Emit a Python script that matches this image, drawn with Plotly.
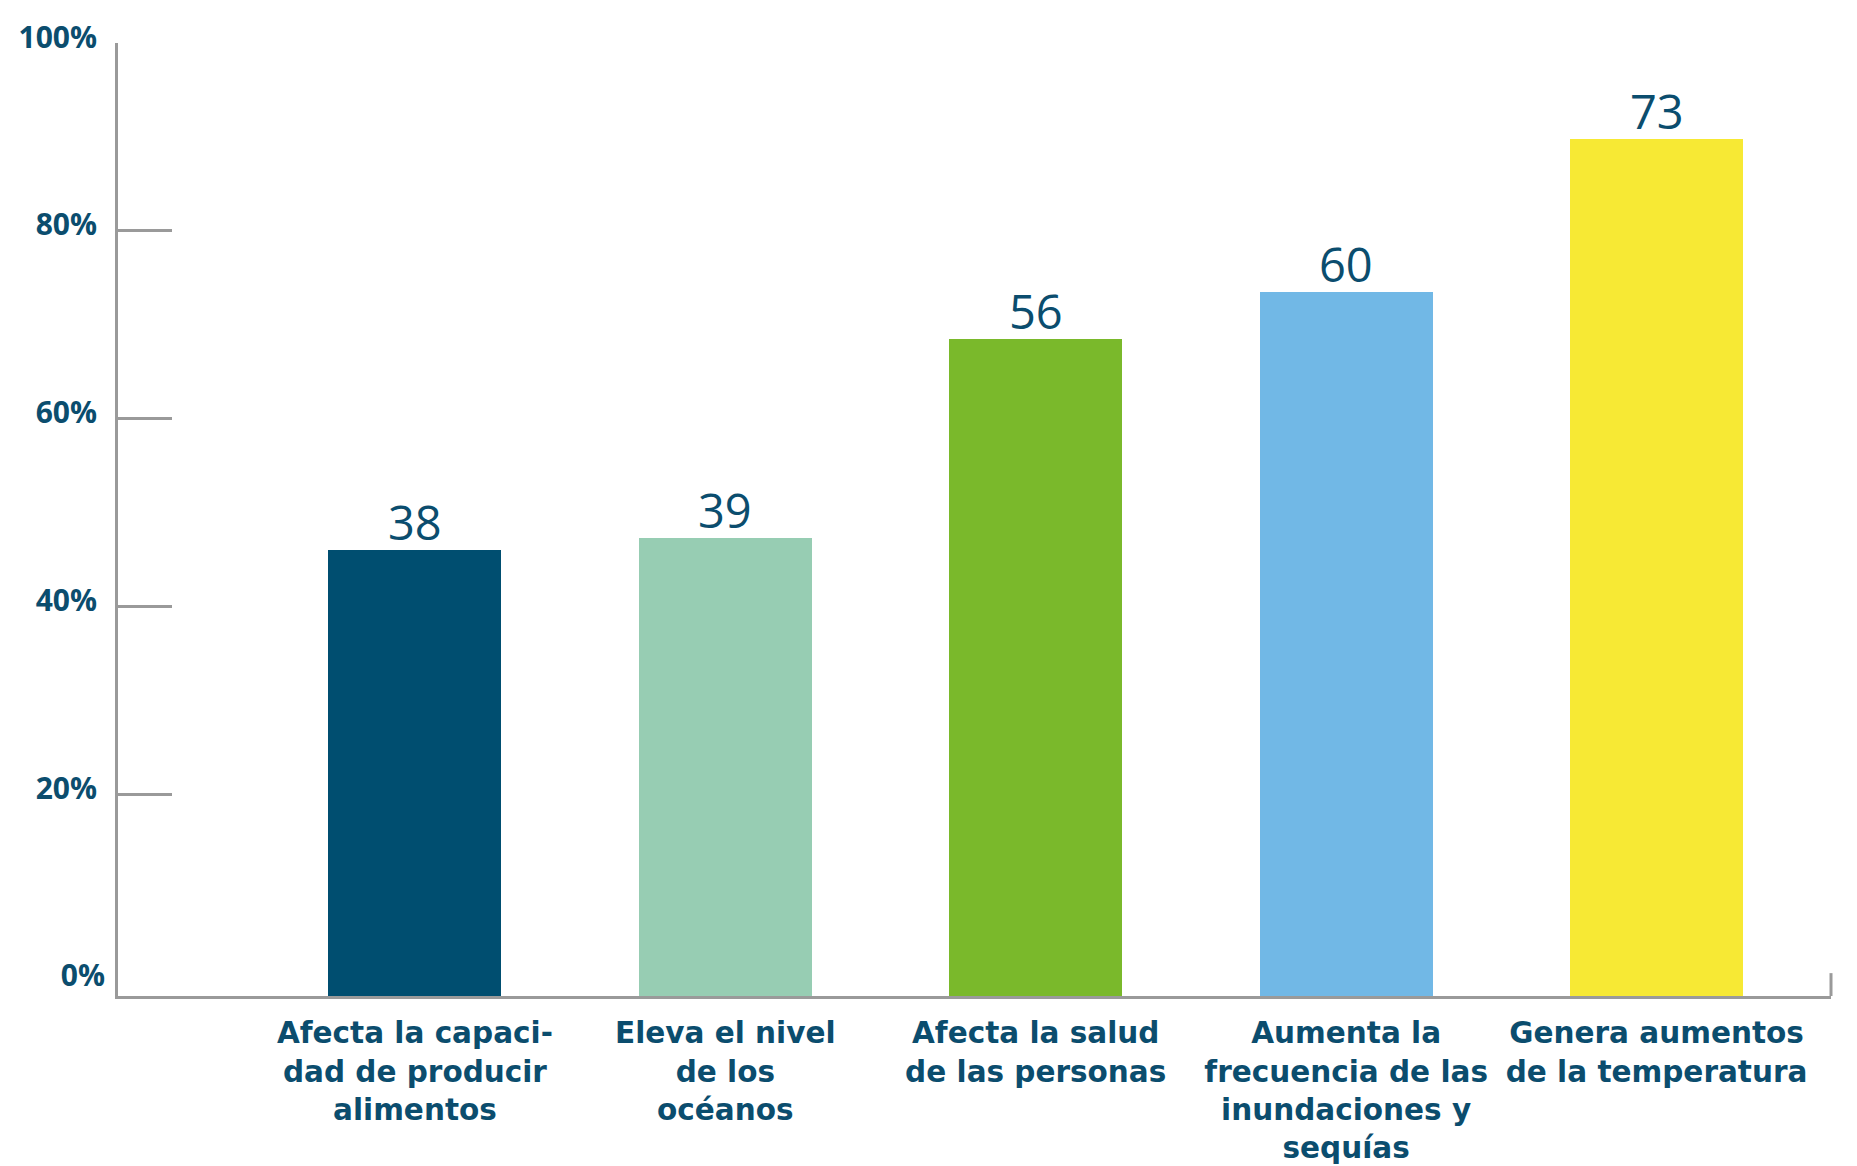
import plotly.graph_objects as go

# Survey results: perceived effects of climate change
categories = [
    "Afecta la capaci-<br>dad de producir<br>alimentos",
    "Eleva el nivel<br>de los<br>océanos",
    "Afecta la salud<br>de las personas",
    "Aumenta la<br>frecuencia de las<br>inundaciones y<br>sequías",
    "Genera aumentos<br>de la temperatura",
]
values = [38, 39, 56, 60, 73]
bar_colors = ["#004e70", "#97cdb3", "#7ab92b", "#71b8e6", "#f7e934"]

# Percentage scale shown on the left axis
pct_ticks = [0, 20, 40, 60, 80, 100]
pct_labels = ["0%", "20%", "40%", "60%", "80%", "100%"]
AXIS_OFFSET = 1.2      # value where the 0% mark sits
UNITS_PER_PCT = 0.8    # axis units per percentage point

tick_pos = [AXIS_OFFSET + UNITS_PER_PCT * p for p in pct_ticks]
y_max = tick_pos[-1]

TEXT_COLOR = "#0b4d6e"
AXIS_COLOR = "#9a9a9a"
FONT = "Open Sans"
LABEL_FONT = "DejaVu Sans"

fig = go.Figure()
fig.add_trace(go.Bar(
    x=categories,
    y=values,
    marker=dict(color=bar_colors, line=dict(width=0)),
    width=0.557,
    hoverinfo="skip",
))
# Invisible trace on the overlay axis so the 0% label is drawn
fig.add_trace(go.Scatter(x=[categories[0]], y=[0], yaxis="y2",
                         mode="markers", marker=dict(opacity=0),
                         hoverinfo="skip", showlegend=False))

# Value labels sitting just above each bar
value_labels = [
    dict(x=c, y=v, xref="x", yref="y", text=str(v), showarrow=False,
         yanchor="bottom", yshift=-6,
         font=dict(family=FONT, size=47, color=TEXT_COLOR))
    for c, v in zip(categories, values)
]

tickfont = dict(family=FONT, size=30, color=TEXT_COLOR, weight=700)

fig.update_layout(
    width=1857,
    height=1166,
    margin=dict(l=118, r=26, t=43, b=170),
    paper_bgcolor="white",
    plot_bgcolor="white",
    showlegend=False,
    bargap=0,
    annotations=value_labels,
    xaxis=dict(
        type="category",
        range=[-0.9565, 4.562],
        automargin=False,
        showline=True,
        linecolor=AXIS_COLOR,
        linewidth=3,
        ticks="",
        showgrid=False,
        zeroline=False,
        tickfont=dict(family=LABEL_FONT, size=29.5, color=TEXT_COLOR, weight=700),
        ticklabelstandoff=9,
        fixedrange=True,
    ),
    yaxis=dict(
        range=[0, y_max],
        automargin=False,
        tickvals=tick_pos[1:],
        ticktext=pct_labels[1:],
        ticks="inside",
        ticklen=54,
        tickwidth=3,
        tickcolor=AXIS_COLOR,
        showline=True,
        linecolor=AXIS_COLOR,
        linewidth=3,
        showgrid=False,
        zeroline=False,
        tickfont=tickfont,
        ticklabelstandoff=12,
        ticklabelshift=-6,
        fixedrange=True,
    ),
    yaxis2=dict(
        overlaying="y",
        side="left",
        range=[0, y_max],
        automargin=False,
        tickvals=tick_pos[:1],
        ticktext=pct_labels[:1],
        ticks="",
        showline=False,
        showgrid=False,
        zeroline=False,
        tickfont=tickfont,
        ticklabelstandoff=12,
        ticklabelshift=-6,
        fixedrange=True,
    ),
    shapes=[dict(
        type="line", xref="paper", yref="paper",
        x0=1, x1=1, y0=0, y1=0.024,
        line=dict(color=AXIS_COLOR, width=3),
    )],
)

fig.write_html("out.html")
